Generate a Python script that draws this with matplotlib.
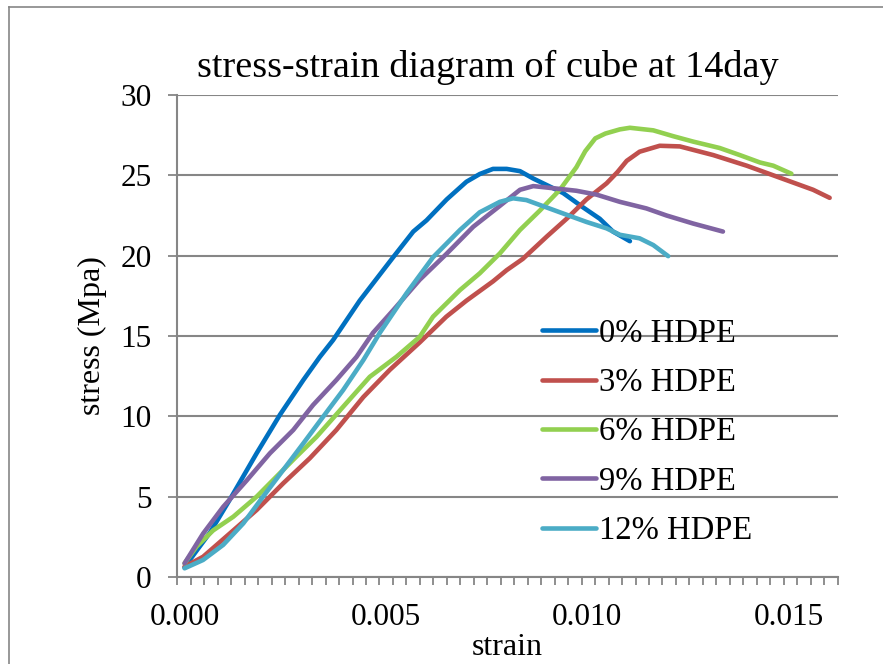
import numpy as np
import matplotlib
matplotlib.use("Agg")
import matplotlib.pyplot as plt
from matplotlib.lines import Line2D

plt.rcParams['font.family'] = ['Liberation Serif', 'DejaVu Serif']

# strain / stress readings for each HDPE content (14 day cubes)
strain_0 = [0.0, 0.00013, 0.00063, 0.00112, 0.00179, 0.00237, 0.00295, 0.00336, 0.00369,
            0.00435, 0.00518, 0.00568, 0.00601, 0.00651, 0.00700, 0.00733, 0.00766,
            0.00800, 0.00833, 0.00866, 0.00940, 0.00990, 0.01031, 0.01064, 0.01106]
stress_0 = [0.6, 1.06, 2.76, 4.8, 7.7, 10.1, 12.26, 13.7, 14.75,
            17.2, 19.9, 21.5, 22.2, 23.5, 24.6, 25.08, 25.4,
            25.4, 25.26, 24.8, 23.9, 23.0, 22.3, 21.5, 20.9]

strain_3 = [0.0, 0.00046, 0.00112, 0.00179, 0.00245, 0.00311, 0.00377, 0.00444, 0.00510,
            0.00584, 0.00650, 0.00700, 0.00766, 0.00800, 0.00840, 0.00900, 0.00949,
            0.00998, 0.01048, 0.01075, 0.01098, 0.01130, 0.01180, 0.01230, 0.01313,
            0.01396, 0.01462, 0.01528, 0.01561, 0.01602]
stress_3 = [0.64, 1.26, 2.7, 4.17, 5.83, 7.39, 9.15, 11.2, 12.9,
            14.6, 16.2, 17.2, 18.4, 19.1, 19.8, 21.2, 22.3,
            23.5, 24.5, 25.2, 25.9, 26.47, 26.84, 26.8, 26.26,
            25.6, 25.0, 24.4, 24.1, 23.6]

strain_6 = [0.0, 0.00030, 0.00071, 0.00121, 0.00179, 0.00228, 0.00278, 0.00328, 0.00394,
            0.00460, 0.00526, 0.00584, 0.00617, 0.00684, 0.00733, 0.00783, 0.00833,
            0.00882, 0.00932, 0.00973, 0.00995, 0.01020, 0.01045, 0.01081, 0.01106,
            0.01164, 0.01213, 0.01263, 0.01329, 0.01379, 0.01429, 0.01462, 0.01507]
stress_6 = [0.85, 1.9, 2.9, 3.75, 5.0, 6.24, 7.5, 8.73, 10.6,
            12.46, 13.7, 14.95, 16.2, 17.86, 18.9, 20.14, 21.6,
            22.8, 24.1, 25.5, 26.5, 27.3, 27.6, 27.86, 27.96,
            27.8, 27.44, 27.1, 26.7, 26.26, 25.8, 25.6, 25.1]

strain_9 = [0.0, 0.00046, 0.00096, 0.00154, 0.00212, 0.00270, 0.00319, 0.00377, 0.00427,
            0.00468, 0.00518, 0.00584, 0.00650, 0.00717, 0.00783, 0.00833, 0.00866,
            0.00915, 0.00973, 0.01023, 0.01081, 0.01147, 0.01197, 0.01263, 0.01337]
stress_9 = [0.85, 2.7, 4.37, 6.0, 7.7, 9.15, 10.7, 12.26, 13.7,
            15.2, 16.6, 18.5, 20.1, 21.8, 23.1, 24.1, 24.33,
            24.2, 24.04, 23.8, 23.35, 22.94, 22.5, 22.0, 21.5]

strain_12 = [0.0, 0.00046, 0.00096, 0.00146, 0.00195, 0.00245, 0.00295, 0.00344, 0.00394,
             0.00444, 0.00485, 0.00551, 0.00617, 0.00684, 0.00733, 0.00783, 0.00816,
             0.00849, 0.00932, 0.00998, 0.01048, 0.01081, 0.01130, 0.01164, 0.01201]
stress_12 = [0.54, 1.06, 2.0, 3.34, 5.0, 6.66, 8.32, 9.97, 11.64,
             13.5, 15.2, 17.65, 19.9, 21.6, 22.7, 23.35, 23.57,
             23.46, 22.7, 22.1, 21.7, 21.3, 21.08, 20.66, 19.97]

labels = ['0% HDPE', '3% HDPE', '6% HDPE', '9% HDPE', '12% HDPE']
colors = ['#0070C0', '#C0504D', '#92D050', '#8064A2', '#4BACC6']
series = [(strain_0, stress_0), (strain_3, stress_3), (strain_6, stress_6),
          (strain_9, stress_9), (strain_12, stress_12)]

grey = '#868686'
W, H = 883, 664
fig = plt.figure(figsize=(W / 100, H / 100), dpi=100)

# chart outline (left and top edges)
fig.add_artist(Line2D([9 / W, 9 / W], [0, 1 - 7 / H], color=grey, lw=1.2))
fig.add_artist(Line2D([9 / W, 1], [1 - 7 / H, 1 - 7 / H], color=grey, lw=1.2))

ax = fig.add_axes([177.3 / W, 1 - 577 / H, (837.7 - 177.3) / W, (577 - 95) / H])

for (x, y), lab, c in zip(series, labels, colors):
    ax.plot(x, y, color=c, lw=3.3, label=lab, solid_joinstyle='round', solid_capstyle='round')

xmin, xmax = -0.00018, 0.01622
ax.set_xlim(xmin, xmax)
ax.set_ylim(0, 30)

ax.set_xticks([0.0, 0.005, 0.010, 0.015])
ax.set_xticklabels(['0.000', '0.005', '0.010', '0.015'])
ax.set_xticks(np.linspace(xmin, xmax, 50), minor=True)
ax.set_yticks(np.arange(0, 31, 5))

ax.tick_params(axis='x', which='major', length=0, pad=19, labelsize=22.5)
ax.tick_params(axis='x', which='minor', length=6, width=1.3, color=grey, direction='out')
ax.tick_params(axis='y', length=6.5, width=1.3, color=grey, pad=12, labelsize=22.5)

ax.grid(axis='y', color=grey, lw=1.5)
ax.set_axisbelow(True)
for side in ['top', 'right']:
    ax.spines[side].set_visible(False)
for side in ['left', 'bottom']:
    ax.spines[side].set_color(grey)
    ax.spines[side].set_linewidth(1.5)

ax.set_xlabel('strain', fontsize=23)
ax.xaxis.set_label_coords(0.50, -0.147)
ax.xaxis.label.set_va('center')
ax.set_ylabel('stress (Mpa)', fontsize=23)
ax.yaxis.set_label_coords(-0.128, 0.5)
ax.yaxis.label.set_va('center')

fig.text(488 / W, 1 - 67 / H, 'stress-strain diagram of cube at 14day',
         fontsize=27.5, ha='center', va='center')

ax.legend(loc='upper left', bbox_to_anchor=(542 / W, 1 - 318 / H),
          bbox_transform=fig.transFigure, frameon=False, fontsize=23.5,
          handlelength=1.65, handletextpad=0.1, labelspacing=0.58, borderpad=0,
          borderaxespad=0)

fig.savefig('out.png', dpi=100)
